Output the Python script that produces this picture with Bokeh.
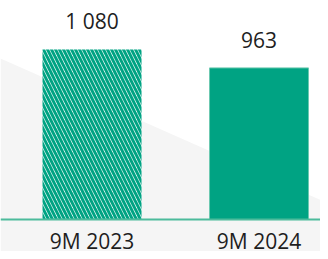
from bokeh.plotting import figure
from bokeh.models import Range1d, Span, PolyAnnotation, ColumnDataSource
from bokeh.core.properties import value
from bokeh.embed import file_html
from bokeh.resources import INLINE

categories = ["9M 2023", "9M 2024"]
values = [1080, 963]
value_labels = ["1 080", "963"]

TEAL = "#00a383"
EDGE = "#6cc9b1"
TEXT = "#1e1e1e"
FONT = "Open Sans"

W, H = 320, 251
STEP = 167  # px between bar centres
p = figure(width=W, height=H, output_backend="svg", toolbar_location=None,
           x_range=Range1d(-0.548, -0.548 + W / STEP), y_range=Range1d(-203, 1391),
           min_border=0, outline_line_color=None,
           background_fill_color="white", border_fill_color="white")
p.axis.visible = False
p.grid.visible = False

# light grey diagonal backdrop (screen units, bottom origin)
bg = PolyAnnotation(xs=[0, W, W, 0], ys=[H - 58, H - 199.5, 0, 0],
                    xs_units="screen", ys_units="screen", level="underlay",
                    fill_color="#f5f5f5", fill_alpha=1, line_color=None)
p.add_layout(bg)

xs = list(range(len(categories)))
src = ColumnDataSource(dict(x=xs, top=values, cat=categories, lab=value_labels))
src1 = ColumnDataSource(dict(x=xs[:1], top=values[:1]))
src2 = ColumnDataSource(dict(x=xs[1:], top=values[1:]))

bw = 99 / STEP
p.vbar(x="x", top="top", bottom=0, width=bw, source=src1,
       fill_color="white", line_color=None,
       hatch_pattern="\\", hatch_color=TEAL, hatch_scale=8, hatch_weight=3)
p.vbar(x="x", top="top", bottom=0, width=bw, source=src2,
       fill_color=TEAL, line_color=EDGE, line_width=1)

p.add_layout(Span(location=0, dimension="width", line_color="#4dbb9c", line_width=2))

p.text(x="x", y="top", text="lab", source=src, text_align="center",
       text_baseline="alphabetic", y_offset=-28, text_font=value(FONT),
       text_font_size="21px", text_color=TEXT)
p.text(x="x", y=0, text="cat", source=src, text_align="center",
       text_baseline="alphabetic", y_offset=21, text_font=value(FONT),
       text_font_size="21px", text_color=TEXT)

open("out.html", "w").write(file_html(p, INLINE))
